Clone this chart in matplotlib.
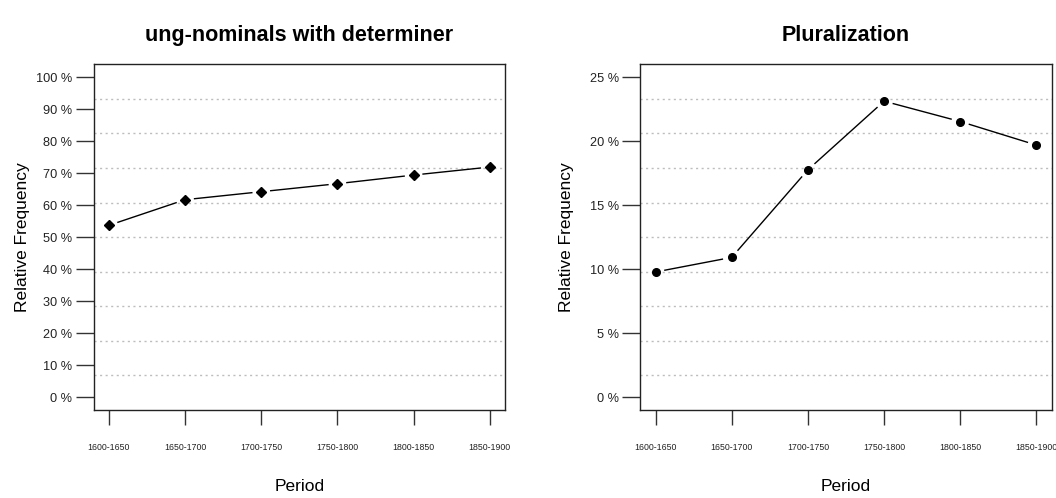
import numpy as np
import matplotlib
matplotlib.use("Agg")
import matplotlib.pyplot as plt

plt.rcParams['font.family'] = ['Liberation Sans', 'DejaVu Sans']

periods = ["1600-1650", "1650-1700", "1700-1750", "1750-1800", "1800-1850", "1850-1900"]
ung_det = [0.537, 0.617, 0.642, 0.667, 0.694, 0.719]
plural = [0.0978, 0.1092, 0.1776, 0.2312, 0.2153, 0.1969]

left_ticks = [0.0, 0.1, 0.2, 0.3, 0.4, 0.5, 0.6, 0.7, 0.8, 0.9, 1.0]
left_labels = ["0 %", "10 %", "20 %", "30 %", "40 %", "50 %", "60 %", "70 %", "80 %", "90 %", "100 %"]
right_ticks = [0.0, 0.05, 0.10, 0.15, 0.20, 0.25]
right_labels = ["0 %", "5 %", "10 %", "15 %", "20 %", "25 %"]

W, H = 1056, 498
fig = plt.figure(figsize=(W / 100, H / 100), dpi=100)

def px_axes(x0, x1, y0, y1):
    return fig.add_axes([x0 / W, 1 - y1 / H, (x1 - x0) / W, (y1 - y0) / H])

def panel(ax, vals, ylim, ticks, labels, title, marker, msize, ylab_x):
    n = len(vals)
    x = np.arange(1, n + 1)
    pad = 0.04 * (n - 1)
    ax.set_xlim(1 - pad, n + pad)
    ypad = 0.04 * (ylim[1] - ylim[0])
    ax.set_ylim(ylim[0] - ypad, ylim[1] + ypad)
    # grid like R grid(): 10 equal divisions of usr range
    lo, hi = ax.get_ylim()
    for g in np.linspace(lo, hi, 11)[1:-1]:
        ax.axhline(g, color="#bdbdbd", lw=1.0, ls=(0, (1.5, 2.5)), zorder=1)
    # line segments with gaps (type = "b")
    pts = ax.transData.transform(np.column_stack([x, vals]))
    gap = 9.5
    inv = ax.transData.inverted()
    for i in range(n - 1):
        p0, p1 = pts[i], pts[i + 1]
        d = p1 - p0
        L = np.hypot(*d)
        if L > 2 * gap:
            u = d / L
            a = inv.transform(p0 + u * gap)
            b = inv.transform(p1 - u * gap)
            ax.plot([a[0], b[0]], [a[1], b[1]], color="black", lw=1.0, zorder=2)
    ax.plot(x, vals, ls="none", marker=marker, ms=msize, color="black", zorder=3)
    ax.set_xticks(x)
    ax.set_xticklabels(periods, fontsize=6.3, color="#222222")
    ax.set_yticks(ticks)
    ax.set_yticklabels(labels, fontsize=9.2, color="#222222")
    ax.tick_params(axis="x", length=10.5, width=1.0, pad=13, color="#333333")
    ax.tick_params(axis="y", length=13, width=1.0, pad=2.5, color="#333333")
    for s in ax.spines.values():
        s.set_linewidth(1.0)
        s.set_color("#222222")
    ax.set_title(title, fontsize=15.5, fontweight="bold", pad=17)
    ax.set_xlabel("Period", fontsize=12.5, labelpad=20)
    ax.set_ylabel("Relative Frequency", fontsize=12.5)
    ax.yaxis.set_label_coords(ylab_x, 0.5)

ax1 = px_axes(93.7, 505, 64.3, 410)
ax2 = px_axes(640.3, 1051.7, 64.3, 410)
panel(ax1, ung_det, (0, 1), left_ticks, left_labels, "ung-nominals with determiner", "D", 5.0, -0.155)
panel(ax2, plural, (0, 0.25), right_ticks, right_labels, "Pluralization", "o", 5.5, -0.162)

fig.savefig("out.png", dpi=100)
